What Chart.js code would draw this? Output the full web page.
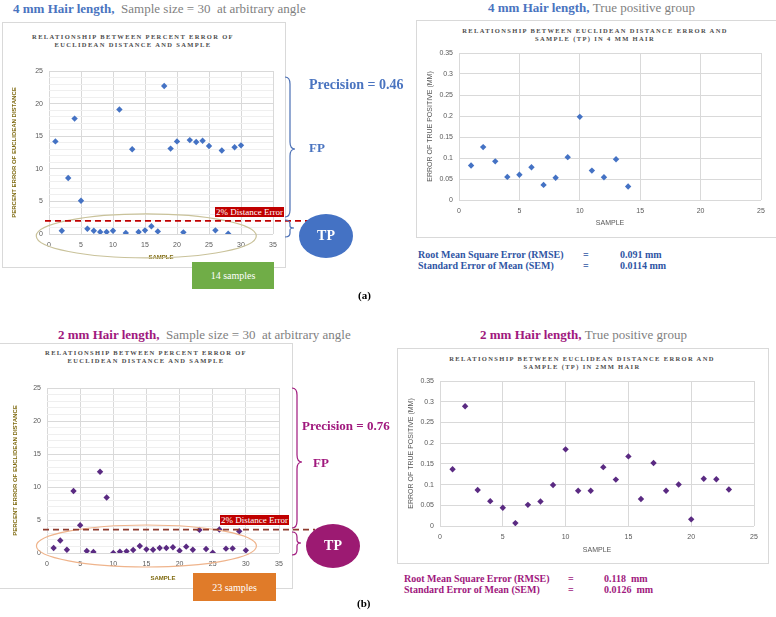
<!DOCTYPE html>
<html>
<head>
<meta charset="utf-8">
<script src="https://cdn.jsdelivr.net/npm/chart.js@4/dist/chart.umd.min.js"></script>
<style>
  body { margin: 0; background: #fff; }
  #page { position: relative; width: 776px; height: 617px; overflow: hidden; font-family: "Liberation Serif", serif; }
  .abs { position: absolute; }
  .box { position: absolute; border: 1px solid #d9d9d9; background: #fff; }
  .head { position: absolute; font-size: 13px; color: #7f7f7f; white-space: nowrap; }
  .head b { font-weight: bold; }
  .ctitle { position: absolute; font-size: 6.5px; font-weight: bold; color: #4d4d4d; letter-spacing: 1.35px; text-align: center; line-height: 8px; white-space: nowrap; transform: translateX(-50%); }
  .stat { position: absolute; font-size: 10px; font-weight: bold; white-space: nowrap; line-height: 11px; }
  .lbl { position: absolute; font-size: 9px; color: #fff; background: #c00000; padding: 0 1px; line-height: 10px; white-space: nowrap; }
  .blob { position: absolute; border-radius: 50%; color: #fff; font-weight: bold; font-size: 14px; display: flex; align-items: center; justify-content: center; }
  .tag { position: absolute; color: #fff; font-size: 10px; display: flex; align-items: center; justify-content: center; }
</style>
</head>
<body>
<div id="page">
  <!-- (a) 4 mm -->
  <div class="head" style="left:13px;top:1px;"><b style="color:#4a74c0">4 mm Hair length,</b>&nbsp; Sample size = 30&nbsp; at arbitrary angle</div>
  <div class="box" style="left:2px;top:22px;width:282px;height:244px;"></div>
  <div class="ctitle" style="left:133px;top:33px;">RELATIONSHIP BETWEEN PERCENT ERROR OF<br>EUCLIDEAN DISTANCE AND SAMPLE</div>
  <canvas id="c1" class="abs" style="left:2px;top:22px;"></canvas>
  <div class="lbl" style="left:215px;top:207px;">2% Distance Error</div>
  <svg class="abs" style="left:280px;top:70px;" width="24" height="175">
    <path d="M5 7 Q10 7 10 14 L10 72 Q10 79 15 79 Q10 79 10 86 L10 140 Q10 147 5 147" fill="none" stroke="#4a6fb5" stroke-width="1.2"/>
    <path d="M5 150 Q10 150 10 154 L10 156 Q10 158 14 158 Q10 158 10 160 L10 163 Q10 167 5 167" fill="none" stroke="#4a6fb5" stroke-width="1.2"/>
  </svg>
  <div class="abs" style="left:309px;top:77px;font-size:14px;font-weight:bold;color:#4a74c0;white-space:nowrap;">Precision = 0.46</div>
  <div class="abs" style="left:309px;top:140px;font-size:13px;font-weight:bold;color:#4a74c0;">FP</div>
  <div class="blob" style="left:299px;top:214px;width:54px;height:44px;background:#4472c4;">TP</div>
  <div class="tag" style="left:192px;top:262px;width:82px;height:27px;background:#70ad47;">14 samples</div>
  <div class="abs" style="left:358px;top:289px;font-size:11px;font-weight:bold;">(a)</div>

  <div class="head" style="left:488px;top:0px;"><b style="color:#4a74c0">4 mm Hair length,</b>&nbsp;True positive group</div>
  <div class="box" style="left:416px;top:20px;width:359px;height:216px;"></div>
  <div class="ctitle" style="left:595px;top:27px;">RELATIONSHIP BETWEEN EUCLIDEAN DISTANCE ERROR AND<br>SAMPLE (TP) IN 4 MM HAIR</div>
  <canvas id="c2" class="abs" style="left:416px;top:20px;"></canvas>
  <div class="stat" style="left:418px;top:249px;color:#2f55a4;">Root Mean Square Error (RMSE)</div>
  <div class="stat" style="left:418px;top:260px;color:#2f55a4;">Standard Error of Mean (SEM)</div>
  <div class="stat" style="left:583px;top:249px;color:#2f55a4;">=</div>
  <div class="stat" style="left:583px;top:260px;color:#2f55a4;">=</div>
  <div class="stat" style="left:620px;top:249px;color:#2f55a4;">0.091 mm</div>
  <div class="stat" style="left:620px;top:260px;color:#2f55a4;">0.0114 mm</div>

  <!-- (b) 2 mm -->
  <div class="head" style="left:58px;top:327px;"><b style="color:#a0187d">2 mm Hair length,</b>&nbsp; Sample size = 30&nbsp; at arbitrary angle</div>
  <div class="box" style="left:-1px;top:343px;width:292px;height:244px;"></div>
  <div class="ctitle" style="left:146px;top:349px;">RELATIONSHIP BETWEEN PERCENT ERROR OF<br>EUCLIDEAN DISTANCE AND SAMPLE</div>
  <canvas id="c3" class="abs" style="left:0px;top:343px;"></canvas>
  <div class="lbl" style="left:220px;top:515px;">2% Distance Error</div>
  <svg class="abs" style="left:287px;top:380px;" width="24" height="180">
    <path d="M5 8 Q10 8 10 15 L10 75 Q10 82 15 82 Q10 82 10 89 L10 141 Q10 148 5 148" fill="none" stroke="#a0187d" stroke-width="1.2"/>
    <path d="M5 152 Q10 152 10 157 L10 160 Q10 163 14 163 Q10 163 10 166 L10 170 Q10 175 5 175" fill="none" stroke="#a0187d" stroke-width="1.2"/>
  </svg>
  <div class="abs" style="left:302px;top:418px;font-size:13px;font-weight:bold;color:#a0187d;white-space:nowrap;">Precision = 0.76</div>
  <div class="abs" style="left:313px;top:455px;font-size:13px;font-weight:bold;color:#a0187d;">FP</div>
  <div class="blob" style="left:306px;top:524px;width:54px;height:44px;background:#9c1a72;">TP</div>
  <div class="tag" style="left:193px;top:573px;width:83px;height:28px;background:#e07b29;">23 samples</div>
  <div class="abs" style="left:357px;top:597px;font-size:11px;font-weight:bold;">(b)</div>

  <div class="head" style="left:480px;top:327px;"><b style="color:#a0187d">2 mm Hair length,</b>&nbsp;True positive group</div>
  <div class="box" style="left:397px;top:348px;width:370px;height:214px;"></div>
  <div class="ctitle" style="left:582px;top:355px;">RELATIONSHIP BETWEEN EUCLIDEAN DISTANCE ERROR AND<br>SAMPLE (TP) IN 2MM HAIR</div>
  <canvas id="c4" class="abs" style="left:397px;top:348px;"></canvas>
  <div class="stat" style="left:404px;top:573px;color:#a0187d;">Root Mean Square Error (RMSE)</div>
  <div class="stat" style="left:404px;top:584px;color:#a0187d;">Standard Error of Mean (SEM)</div>
  <div class="stat" style="left:568px;top:573px;color:#a0187d;">=</div>
  <div class="stat" style="left:568px;top:584px;color:#a0187d;">=</div>
  <div class="stat" style="left:604px;top:573px;color:#a0187d;">0.118&nbsp; mm</div>
  <div class="stat" style="left:604px;top:584px;color:#a0187d;">0.0126&nbsp; mm</div>
</div>

<script>
// 4 mm, percent error of euclidean distance, all 30 samples
var samples30 = [1,2,3,4,5,6,7,8,9,10,11,12,13,14,15,16,17,18,19,20,21,22,23,24,25,26,27,28,29,30];
var err4mmAll = [14.2,0.5,8.6,17.7,5.1,0.8,0.5,0.3,0.3,0.5,19.1,0.15,13.0,0.3,0.56,1.2,0.4,22.7,13.1,14.2,0.25,14.4,14.1,14.3,13.5,0.56,12.8,0.05,13.3,13.6];

// 4 mm, true positive group (mm)
var samples14 = [1,2,3,4,5,6,7,8,9,10,11,12,13,14];
var err4mmTP = [0.082,0.126,0.092,0.055,0.060,0.078,0.036,0.053,0.102,0.198,0.070,0.054,0.097,0.032];

// 2 mm, percent error, all 30 samples
var err2mmAll = [0.76,1.9,0.5,9.4,4.2,0.3,0.15,12.3,8.4,0.0,0.2,0.25,0.45,1.06,0.55,0.5,0.76,0.76,0.86,0.35,0.96,0.5,3.5,0.6,0.05,3.55,0.66,0.7,3.3,0.4];

// 2 mm, true positive group (mm)
var samples23 = [1,2,3,4,5,6,7,8,9,10,11,12,13,14,15,16,17,18,19,20,21,22,23];
var err2mmTP = [0.137,0.289,0.087,0.060,0.044,0.007,0.051,0.059,0.099,0.185,0.085,0.085,0.142,0.112,0.168,0.065,0.152,0.085,0.100,0.016,0.114,0.113,0.088];

// threshold lines
var cut4mm = 2.0;
var cut2mm = 3.55;

function toPoints(xs, ys) {
    return xs.map(function(x, i) { return { x: x, y: ys[i] }; });
}

// dashed threshold line + ellipse round the TP group
var guidePlugin = {
    id: 'guide',
    afterDatasetsDraw: function(chart, args, opts) {
        if (!opts || opts.value === undefined) return;
        var ctx = chart.ctx;
        var xs = chart.scales.x, ys = chart.scales.y;
        var yPix = ys.getPixelForValue(opts.value);
        ctx.save();
        ctx.strokeStyle = opts.ellipseColor;
        ctx.lineWidth = 1.2;
        ctx.beginPath();
        ctx.ellipse(xs.getPixelForValue(opts.ex), ys.getPixelForValue(opts.ey), opts.rx, opts.ry, 0, 0, Math.PI * 2);
        ctx.stroke();
        ctx.strokeStyle = opts.color;
        ctx.lineWidth = 1.8;
        ctx.setLineDash([6, 4]);
        ctx.beginPath();
        ctx.moveTo(xs.left - 4, yPix);
        ctx.lineTo(xs.left - 4 + opts.len, yPix);
        ctx.stroke();
        ctx.restore();
    }
};

function makeChart(id, w, h, pts, color, cfg) {
    var cv = document.getElementById(id);
    cv.width = w; cv.height = h;
    var minor = cfg.minor;
    return new Chart(cv.getContext('2d'), {
        type: 'scatter',
        data: {
            datasets: [{
                data: pts,
                pointStyle: 'rectRot',
                pointRadius: 3.2,
                backgroundColor: color,
                borderColor: color,
                borderWidth: 0
            }]
        },
        options: {
            responsive: false,
            animation: false,
            layout: { padding: cfg.pad },
            plugins: {
                legend: { display: false },
                tooltip: { enabled: false },
                guide: cfg.guide || {}
            },
            scales: {
                x: {
                    type: 'linear',
                    min: 0, max: cfg.xmax,
                    ticks: { stepSize: 5, color: '#595959', font: { size: 7, family: 'Liberation Sans' }, padding: 7, maxRotation: 0 },
                    grid: { color: '#d9d9d9', drawTicks: false },
                    border: { display: false },
                    title: { display: true, text: 'SAMPLE', color: cfg.axisColor, font: { size: cfg.axisSize, family: 'Liberation Sans', weight: cfg.axisWeight }, padding: { top: 2, bottom: 0 } },
                    afterFit: function(s) { s.height = cfg.xh; }
                },
                y: {
                    type: 'linear',
                    min: 0, max: cfg.ymax,
                    ticks: {
                        stepSize: minor ? 1 : cfg.ystep,
                        autoSkip: false,
                        color: '#595959',
                        font: { size: 7, family: 'Liberation Sans' },
                        padding: 6,
                        callback: function(v) {
                            if (minor) return v % 5 === 0 ? v : '';
                            return String(+v.toFixed(2));
                        }
                    },
                    grid: {
                        drawTicks: false,
                        color: function(c) {
                            if (minor && c.tick && c.tick.value % 5 !== 0) return '#efefef';
                            return '#d9d9d9';
                        }
                    },
                    border: { display: false },
                    title: { display: true, text: cfg.ytitle, color: cfg.axisColor, font: { size: cfg.axisSize, family: 'Liberation Sans', weight: cfg.axisWeight }, padding: { top: cfg.ytpad, bottom: 2 } },
                    afterFit: function(s) { s.width = cfg.yw; }
                }
            }
        },
        plugins: [guidePlugin]
    });
}

makeChart('c1', 313, 245, toPoints(samples30, err4mmAll), '#4472c4', {
    minor: true, xmax: 35, ymax: 25, xh: 27, yw: 47, ytpad: 9,
    pad: { left: 0, right: 42, top: 49, bottom: 6 },
    ytitle: 'PERCENT ERROR OF EUCLIDEAN DISTANCE', axisColor: '#7f6a10', axisSize: 6, axisWeight: 'bold',
    guide: { value: cut4mm, color: '#c00000', len: 265, ellipseColor: '#c9c29a', ex: 15.2, ey: -0.3, rx: 110, ry: 22 }
});

makeChart('c2', 360, 217, toPoints(samples14, err4mmTP), '#4472c4', {
    minor: false, xmax: 25, ymax: 0.35, ystep: 0.05, xh: 27, yw: 43, ytpad: 10,
    pad: { left: 0, right: 15, top: 33, bottom: 10 },
    ytitle: 'ERROR OF TRUE POSITIVE (MM)', axisColor: '#595959', axisSize: 7, axisWeight: 'normal'
});

makeChart('c3', 315, 245, toPoints(samples30, err2mmAll), '#5a2a82', {
    minor: true, xmax: 35, ymax: 25, xh: 29, yw: 47, ytpad: 12,
    pad: { left: 0, right: 36, top: 45, bottom: 6 },
    ytitle: 'PERCENT ERROR OF EUCLIDEAN DISTANCE', axisColor: '#7f6a10', axisSize: 6, axisWeight: 'bold',
    guide: { value: cut2mm, color: '#8e3b2e', len: 273, ellipseColor: '#efb48c', ex: 15.0, ey: 1.06, rx: 110, ry: 21 }
});

makeChart('c4', 371, 215, toPoints(samples23, err2mmTP), '#5a2a82', {
    minor: false, xmax: 25, ymax: 0.35, ystep: 0.05, xh: 28, yw: 43, ytpad: 10,
    pad: { left: 0, right: 14, top: 33, bottom: 9 },
    ytitle: 'ERROR OF TRUE POSITIVE (MM)', axisColor: '#595959', axisSize: 7, axisWeight: 'normal'
});
</script>
</body>
</html>
